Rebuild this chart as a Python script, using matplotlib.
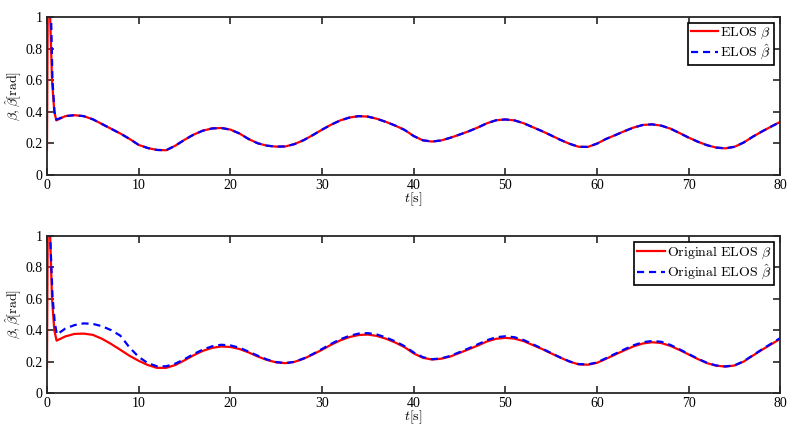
import numpy as np
import matplotlib
matplotlib.use("Agg")
import matplotlib.pyplot as plt
from matplotlib.ticker import FuncFormatter

plt.rcParams["font.family"] = ["Liberation Serif", "DejaVu Serif"]
plt.rcParams["mathtext.fontset"] = "cm"

# initial transient (s) and values (rad)
t_start_red = [0.0, 0.1, 0.35, 0.55, 0.8, 1.02]
beta_start = [0.16, 1.2, 1.0, 0.6, 0.4, 0.345]
t_start_blue = [0.0, 0.45, 0.6, 0.82, 1.02]
beta_hat_start = [1.8, 1.0, 0.6, 0.4, 0.35]

t_start_red2 = [0.0, 0.1, 0.35, 0.55, 0.8, 1.05]
beta_start2 = [0.16, 1.2, 1.0, 0.6, 0.4, 0.333]
t_start_blue2 = [0.0, 0.35, 0.61, 0.85, 1.08]
beta_hat_start2 = [1.8, 1.0, 0.61, 0.45, 0.372]

t_main = np.arange(2, 81)

# ELOS (top)
beta_top = [
    0.372, 0.378, 0.372, 0.352, 0.322, 0.292, 0.262, 0.228, 0.19, 0.17,
    0.158, 0.156, 0.185, 0.222, 0.255, 0.28, 0.294, 0.297, 0.287, 0.262,
    0.227, 0.2, 0.185, 0.179, 0.18, 0.195, 0.22, 0.252, 0.286, 0.318,
    0.345, 0.363, 0.372, 0.369, 0.355, 0.335, 0.312, 0.285, 0.246, 0.219,
    0.211, 0.218, 0.235, 0.255, 0.276, 0.3, 0.327, 0.346, 0.351, 0.345,
    0.327, 0.302, 0.277, 0.25, 0.222, 0.197, 0.178, 0.177, 0.198, 0.228,
    0.252, 0.277, 0.3, 0.316, 0.32, 0.312, 0.293, 0.265, 0.236, 0.21,
    0.188, 0.173, 0.168, 0.178, 0.205, 0.242, 0.275, 0.306, 0.336,
]
beta_hat_top = list(beta_top)

# Original ELOS (bottom)
beta_bot = [
    0.36, 0.376, 0.378, 0.37, 0.345, 0.312, 0.275, 0.237, 0.205, 0.178,
    0.16, 0.16, 0.178, 0.208, 0.24, 0.268, 0.287, 0.296, 0.293, 0.28,
    0.258, 0.232, 0.21, 0.195, 0.19, 0.198, 0.218, 0.245, 0.275, 0.307,
    0.335, 0.356, 0.369, 0.372, 0.363, 0.345, 0.321, 0.292, 0.252, 0.224,
    0.213, 0.218, 0.232, 0.255, 0.278, 0.302, 0.328, 0.345, 0.351, 0.346,
    0.33, 0.305, 0.28, 0.252, 0.225, 0.2, 0.182, 0.18, 0.192, 0.218,
    0.245, 0.272, 0.297, 0.315, 0.323, 0.318, 0.3, 0.274, 0.245, 0.216,
    0.19, 0.174, 0.168, 0.175, 0.2, 0.238, 0.275, 0.31, 0.345,
]
beta_hat_bot = [
    0.41, 0.432, 0.443, 0.44, 0.425, 0.4, 0.365, 0.29, 0.23, 0.19,
    0.17, 0.17, 0.187, 0.215, 0.248, 0.276, 0.297, 0.307, 0.303, 0.288,
    0.263, 0.237, 0.213, 0.197, 0.19, 0.198, 0.22, 0.248, 0.28, 0.313,
    0.342, 0.364, 0.378, 0.381, 0.372, 0.353, 0.328, 0.298, 0.258, 0.228,
    0.215, 0.22, 0.236, 0.26, 0.284, 0.31, 0.336, 0.355, 0.361, 0.355,
    0.337, 0.31, 0.283, 0.254, 0.226, 0.201, 0.184, 0.182, 0.194, 0.222,
    0.25, 0.278, 0.304, 0.323, 0.331, 0.326, 0.306, 0.278, 0.248, 0.218,
    0.192, 0.175, 0.169, 0.176, 0.202, 0.24, 0.278, 0.314, 0.35,
]

labels_top = [r"$\mathrm{ELOS}\ \beta$", r"$\mathrm{ELOS}\ \hat{\beta}$"]
labels_bot = [r"$\mathrm{Original\ ELOS}\ \beta$", r"$\mathrm{Original\ ELOS}\ \hat{\beta}$"]

axis_col = (0.15, 0.15, 0.15)


def style_axes(ax):
    ax.set_xlim(0, 80)
    ax.set_ylim(0, 1)
    ax.set_xticks(range(0, 81, 10))
    ax.set_yticks([0, 0.2, 0.4, 0.6, 0.8, 1.0])
    ax.yaxis.set_major_formatter(FuncFormatter(lambda v, p: f"{v:g}"))
    ax.tick_params(direction="in", top=True, right=True, length=5, width=1.2,
                   labelsize=10, colors=axis_col, pad=3)
    ax.tick_params(labelcolor="black")
    for s in ax.spines.values():
        s.set_linewidth(1.3)
        s.set_color(axis_col)
    ax.set_xlabel(r"$t[\mathrm{s}]$", fontsize=10, labelpad=-1)
    ax.set_ylabel(r"$\beta,\hat{\beta}[\mathrm{rad}]$", fontsize=10, labelpad=1)


def draw(ax, tr, br, tb, bb, main_r, main_b, labels):
    t_r = np.concatenate([tr, t_main])
    t_b = np.concatenate([tb, t_main])
    ax.plot(t_r, np.concatenate([br, main_r]), color="red", lw=1.6, label=labels[0])
    ax.plot(t_b, np.concatenate([bb, main_b]), color="blue", lw=1.6,
            linestyle=(0, (3.2, 2.2)), label=labels[1])
    leg = ax.legend(loc="upper right", fontsize=10, fancybox=False, framealpha=1,
                    edgecolor="black", handlelength=2.0, handletextpad=0.15,
                    borderpad=0.2, labelspacing=0.1, borderaxespad=0.45)
    leg.get_frame().set_linewidth(1.2)


fig = plt.figure(figsize=(7.92, 4.34), dpi=100)
ax1 = fig.add_axes([0.0593, 0.597, 0.926, 0.364])
ax2 = fig.add_axes([0.0593, 0.0945, 0.926, 0.362])

draw(ax1, t_start_red, beta_start, t_start_blue, beta_hat_start,
     beta_top, beta_hat_top, labels_top)
draw(ax2, t_start_red2, beta_start2, t_start_blue2, beta_hat_start2,
     beta_bot, beta_hat_bot, labels_bot)
style_axes(ax1)
style_axes(ax2)

fig.savefig("out.png", dpi=100)
